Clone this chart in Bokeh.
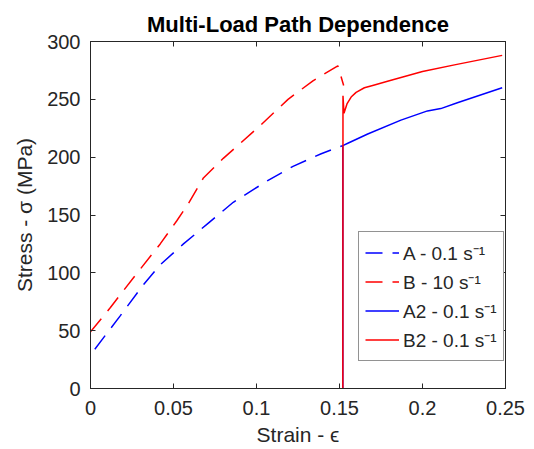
from bokeh.plotting import figure
from bokeh.models import Range1d, LinearAxis, FixedTicker, CustomJSTickFormatter, Legend, LegendItem
from bokeh.embed import file_html
from bokeh.resources import INLINE

# ---- data ----
a_strain = [0.0026, 0.018, 0.032, 0.042, 0.056, 0.071, 0.086, 0.107, 0.122, 0.139, 0.152]
a_stress = [34, 63, 90, 107, 125, 143, 161, 180, 192, 203, 210]

b_strain = [0.0, 0.012, 0.026, 0.042, 0.052, 0.059, 0.068, 0.080, 0.102, 0.119, 0.134, 0.149, 0.1525]
b_stress = [49, 70, 96, 125, 145, 160, 182, 199, 227, 250, 266, 279, 262]

a2_strain = [0.152, 0.152, 0.155, 0.167, 0.187, 0.203, 0.211, 0.221, 0.248]
a2_stress = [0, 210, 212, 220, 232, 240, 242, 247, 260]

b2_strain = [0.152, 0.1521, 0.1527, 0.1545, 0.157, 0.160, 0.165, 0.170, 0.180, 0.200, 0.220, 0.248]
b2_stress = [0, 253, 238, 246, 252, 256, 260, 262, 266, 274, 280, 288]

labels = ["A - 0.1 s\u207b\u00b9", "B - 10 s\u207b\u00b9", "A2 - 0.1 s\u207b\u00b9", "B2 - 0.1 s\u207b\u00b9"]
x_ticks = [0, 0.05, 0.1, 0.15, 0.2, 0.25]
y_ticks = [0, 50, 100, 150, 200, 250, 300]

FONT = "Liberation Sans"
AX = "#262626"

p = figure(width=534, height=449, output_backend="svg", toolbar_location=None,
           x_range=Range1d(0, 0.25), y_range=Range1d(0, 300),
           min_border_left=90, min_border_right=29, min_border_top=41, min_border_bottom=61,
           background_fill_color="white", border_fill_color="white",
           outline_line_color=AX, outline_line_width=1)

p.title.text = "Multi-Load Path Dependence"
p.title.align = "center"
p.title.text_font = FONT
p.title.text_font_size = "22px"
p.title.text_font_style = "bold"
p.title.text_color = "#000000"
p.title.standoff = 9

p.xgrid.visible = False
p.ygrid.visible = False

fmt = CustomJSTickFormatter(code="return tick.toFixed(2).replace(/\\.?0+$/, '');")
blank = CustomJSTickFormatter(code="return '';")

def style_axis(ax, ticks):
    ax.ticker = FixedTicker(ticks=ticks)
    ax.major_tick_in = 5
    ax.major_tick_out = 0
    ax.minor_tick_in = 0
    ax.minor_tick_out = 0
    ax.axis_line_color = AX
    ax.major_tick_line_color = AX
    ax.major_label_text_font = FONT
    ax.major_label_text_font_size = "20px"
    ax.major_label_text_color = AX
    ax.axis_label_text_font = FONT
    ax.axis_label_text_font_size = "21px"
    ax.axis_label_text_font_style = "normal"
    ax.axis_label_text_color = AX

style_axis(p.xaxis[0], x_ticks)
p.xaxis[0].formatter = fmt
p.xaxis[0].axis_label = "Strain - \u03f5"
p.xaxis[0].major_label_standoff = 12
p.xaxis[0].axis_label_standoff = 5

style_axis(p.yaxis[0], y_ticks)
p.yaxis[0].axis_label = "Stress - \u03c3 (MPa)"
p.yaxis[0].major_label_standoff = 10
p.yaxis[0].axis_label_standoff = 8

top = LinearAxis(formatter=blank)
style_axis(top, x_ticks)
top.major_label_standoff = 0
p.add_layout(top, "above")
right = LinearAxis(formatter=blank)
style_axis(right, y_ticks)
right.major_label_standoff = 0
p.add_layout(right, "right")

dash = "17 10"
ra = p.line(a_strain, a_stress, line_color="#0000FF", line_width=1.5, line_dash=dash)
rb = p.line(b_strain, b_stress, line_color="#FF0000", line_width=1.5, line_dash=dash)
ra2 = p.line(a2_strain, a2_stress, line_color="#0000FF", line_width=1.5)
rb2 = p.line(b2_strain, b2_stress, line_color="#FF0000", line_width=1.5)

items = [LegendItem(label=labels[i], renderers=[r]) for i, r in enumerate([ra, rb, ra2, rb2])]
legend = Legend(items=items, location=(268, 27), glyph_width=34, glyph_height=29,
                label_height=29, spacing=0, padding=6, margin=0, label_standoff=4,
                border_line_color=AX, border_line_width=1, background_fill_color="white",
                background_fill_alpha=1.0,
                label_text_font=FONT, label_text_font_size="19px", label_text_color=AX)
p.add_layout(legend, "center")

open("out.html", "w").write(file_html(p, INLINE))
